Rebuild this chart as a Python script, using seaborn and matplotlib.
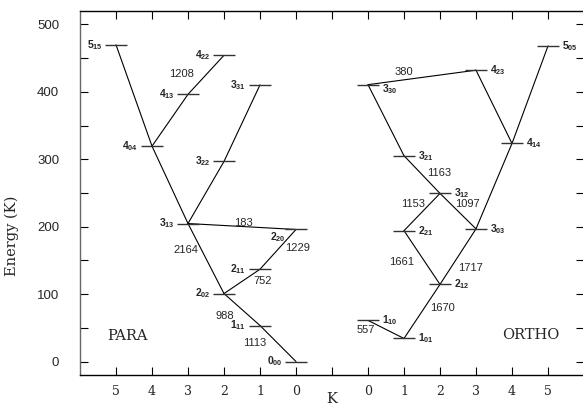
import matplotlib
matplotlib.use("Agg")
import matplotlib.pyplot as plt
from matplotlib.ticker import MultipleLocator, FixedLocator
import pandas as pd
import seaborn as sns

# Rotational energy levels of para- and ortho-H2O (name, K, energy in K)
para_levels = ["0_00", "1_11", "2_02", "2_11", "2_20", "3_13",
               "3_22", "3_31", "4_04", "4_13", "4_22", "5_15"]
para_K = [0, 1, 2, 1, 0, 3, 2, 1, 4, 3, 2, 5]
para_E = [0.0, 53.4, 100.8, 136.9, 195.9, 204.7,
          296.8, 410.4, 319.5, 396.4, 454.3, 469.9]

ortho_levels = ["1_01", "1_10", "2_12", "2_21", "3_03", "3_12",
                "3_21", "3_30", "4_14", "4_23", "5_05"]
ortho_K = [1, 0, 2, 1, 3, 2, 1, 0, 4, 3, 5]
ortho_E = [34.2, 61.0, 114.4, 194.1, 196.8, 249.4,
           305.3, 410.7, 323.5, 432.2, 468.1]

# Radiative transitions connecting the levels, with frequency (GHz)
para_links = [("5_15", "4_04"), ("4_04", "3_13"), ("3_13", "2_02"),
              ("2_02", "1_11"), ("1_11", "0_00"), ("4_04", "4_13"),
              ("4_13", "4_22"), ("3_13", "3_22"), ("3_22", "3_31"),
              ("3_13", "2_20"), ("2_20", "2_11"), ("2_11", "2_02")]
para_freq = ["", "", "2164", "988", "1113", "", "1208", "", "", "183", "1229", "752"]

ortho_links = [("1_10", "1_01"), ("1_01", "2_12"), ("2_12", "2_21"),
               ("2_12", "3_03"), ("2_21", "3_12"), ("3_12", "3_03"),
               ("3_12", "3_21"), ("3_21", "3_30"), ("3_30", "4_23"),
               ("4_23", "4_14"), ("3_03", "4_14"), ("4_14", "5_05")]
ortho_freq = ["557", "1670", "1661", "1717", "1153", "1097", "1163", "", "380", "", "", ""]

# Where each frequency label sits (axis units, energy)
freq_pos = {
    "2164": (2.94, 165), "988": (4.03, 68), "1113": (4.86, 28),
    "1208": (2.83, 426), "183": (4.53, 205), "1229": (6.03, 169),
    "752": (5.06, 120), "557": (7.94, 47), "1670": (10.06, 80),
    "1661": (8.94, 148), "1717": (10.86, 139), "1153": (9.25, 233),
    "1097": (10.75, 233), "1163": (9.97, 279), "380": (9.0, 429),
}

x_ticks = list(range(1, 14))
x_ticklabels = ["5", "4", "3", "2", "1", "0", "", "0", "1", "2", "3", "4", "5"]

# Para ladder runs right-to-left ending at column 6, ortho left-to-right from 8
para = pd.DataFrame({"name": para_levels, "x": [6 - k for k in para_K], "E": para_E, "spin": "para"})
ortho = pd.DataFrame({"name": ortho_levels, "x": [8 + k for k in ortho_K], "E": ortho_E, "spin": "ortho"})
levels = pd.concat([para, ortho], ignore_index=True)
pos = {n: (x, e) for n, x, e in zip(levels["name"], levels["x"], levels["E"])}

rows = []
for i, (a, b) in enumerate(para_links + ortho_links):
    for p in (a, b):
        rows.append({"seg": i, "x": pos[p][0], "E": pos[p][1]})
segs = pd.DataFrame(rows)

sns.set_style("ticks")
plt.rcParams["mathtext.default"] = "regular"

fig = plt.figure(figsize=(5.83, 4.13), dpi=100)
ax = fig.add_axes([80 / 583, 38 / 413, 504 / 583, 364 / 413])

sns.lineplot(data=segs, x="x", y="E", units="seg", estimator=None, sort=False,
             color="black", linewidth=0.8, ax=ax, legend=False)

half = 0.3
ax.hlines(levels["E"], levels["x"] - half, levels["x"] + half, color="#333333", linewidth=1.0)

def level_label(name):
    j, sub = name.split("_")
    return f"{j}$_{{{sub}}}$"

lab_kw = dict(fontsize=7.5, fontweight="bold", family="Liberation Sans", va="center")
for r in levels.itertuples():
    txt = level_label(r.name)
    if r.name == "2_20":
        ax.text(r.x - 0.5, r.E - 11, txt, ha="center", **lab_kw)
    elif r.name == "3_30":
        ax.text(r.x + 0.4, r.E - 6, txt, ha="left", **lab_kw)
    elif r.spin == "para":
        ax.text(r.x - 0.38, r.E, txt, ha="right", **lab_kw)
    else:
        ax.text(r.x + 0.4, r.E, txt, ha="left", **lab_kw)

for f in para_freq + ortho_freq:
    if f:
        fx, fy = freq_pos[f]
        ax.text(fx, fy, f, ha="center", va="center", fontsize=8, family="Liberation Sans")

ax.text(1.31, 38, "PARA", ha="center", va="center", fontsize=10.5, family="DejaVu Serif")
ax.text(12.53, 40, "ORTHO", ha="center", va="center", fontsize=10.5, family="DejaVu Serif")

ax.set_xlim(0, 14)
ax.set_ylim(-20, 520)
ax.xaxis.set_major_locator(FixedLocator(x_ticks))
ax.set_xticklabels(x_ticklabels, family="DejaVu Serif", fontsize=9)
ax.yaxis.set_major_locator(MultipleLocator(100))
ax.yaxis.set_minor_locator(MultipleLocator(50))
for lab in ax.get_yticklabels():
    lab.set_family("Liberation Sans")
    lab.set_fontsize(9.5)

ax.tick_params(axis="both", which="both", direction="in", top=True, right=True,
               length=6, width=0.8, color="black")
ax.tick_params(axis="x", pad=7)
ax.tick_params(axis="y", pad=15)

ax.set_xlabel("K", family="DejaVu Serif", fontsize=10.5)
ax.xaxis.set_label_coords(0.5, -0.046)
ax.set_ylabel("Energy (K)", family="DejaVu Serif", fontsize=10.5)
ax.yaxis.set_label_coords(-0.121, 0.382)

for s in ax.spines.values():
    s.set_linewidth(1.0)
    s.set_color("black")
ax.spines["left"].set_color("#666666")

fig.savefig("out.png", dpi=100)
